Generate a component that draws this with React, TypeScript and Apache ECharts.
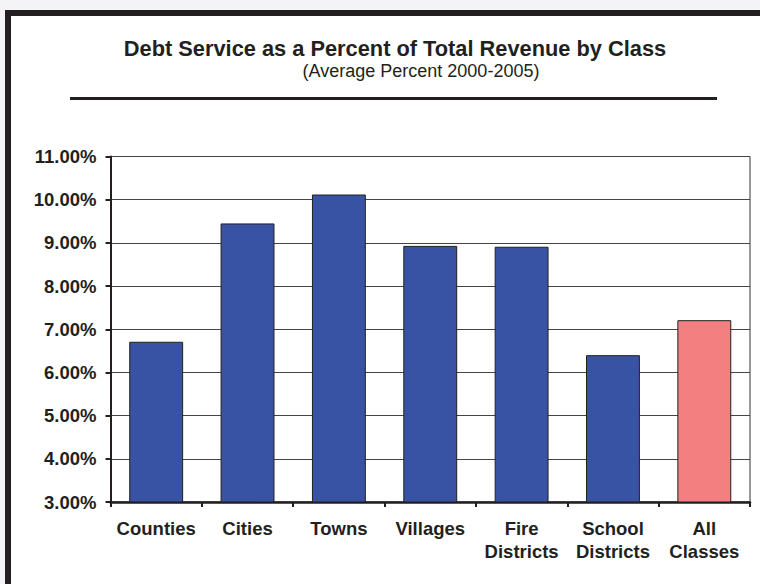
import React, { useEffect, useRef } from "react";
import * as echarts from "echarts";

const categories = ["Counties", "Cities", "Towns", "Villages", "Fire\nDistricts", "School\nDistricts", "All\nClasses"];
const values = [6.71, 9.45, 10.12, 8.93, 8.91, 6.4, 7.21];
const barColors = ["#3953a4", "#3953a4", "#3953a4", "#3953a4", "#3953a4", "#3953a4", "#f47f80"];
const titleText = "Debt Service as a Percent of Total Revenue by Class";
const subtitleText = "(Average Percent 2000-2005)";

export default function App() {
  const ref = useRef<HTMLDivElement>(null);
  useEffect(() => {
    if (!ref.current) return;
    const chart = echarts.init(ref.current, null, { renderer: "svg" });
    const font = "'Liberation Sans', Arial, sans-serif";
    chart.setOption({
      animation: false,
      backgroundColor: "#f4f4f6",
      textStyle: { fontFamily: font },
      graphic: [
        {
          type: "rect",
          z: -10,
          shape: { x: 8, y: 13, width: 800, height: 700 },
          style: { fill: "#ffffff", stroke: "#231f20", lineWidth: 6 },
        },
        {
          type: "text",
          x: 395,
          y: 48,
          style: {
            text: titleText,
            font: `bold 21.8px ${font}`,
            fill: "#231f20",
            textAlign: "center",
            textVerticalAlign: "middle",
          },
        },
        {
          type: "text",
          x: 421,
          y: 71,
          style: {
            text: subtitleText,
            font: `18px ${font}`,
            fill: "#231f20",
            textAlign: "center",
            textVerticalAlign: "middle",
          },
        },
        {
          type: "line",
          shape: { x1: 70, y1: 98.5, x2: 717, y2: 98.5 },
          style: { stroke: "#231f20", lineWidth: 3 },
        },
      ],
      grid: {
        left: 110.5,
        right: 10,
        top: 156.5,
        bottom: 82,
        show: true,
        borderColor: "#333",
        borderWidth: 1,
        backgroundColor: "transparent",
      },
      xAxis: {
        type: "category",
        data: categories,
        axisLine: { lineStyle: { color: "#231f20", width: 2.5 } },
        axisTick: { show: true, length: 5, lineStyle: { color: "#231f20", width: 2 } },
        axisLabel: {
          interval: 0,
          margin: 15,
          color: "#231f20",
          fontWeight: "bold",
          fontSize: 18.5,
          lineHeight: 23,
          fontFamily: font,
        },
      },
      yAxis: {
        type: "value",
        min: 3,
        max: 11,
        interval: 1,
        axisLine: { show: true, lineStyle: { color: "#231f20", width: 2 } },
        axisTick: { show: true, length: 5, lineStyle: { color: "#231f20", width: 2 } },
        splitLine: { show: true, lineStyle: { color: "#444", width: 1 } },
        axisLabel: {
          margin: 14,
          color: "#231f20",
          fontWeight: "bold",
          fontSize: 18.5,
          fontFamily: font,
          formatter: (v: number) => v.toFixed(2) + "%",
        },
      },
      series: [
        {
          type: "bar",
          barCategoryGap: "41%",
          data: values.map((v, i) => ({
            value: v,
            itemStyle: { color: barColors[i] },
          })),
          itemStyle: { borderColor: "#231f20", borderWidth: 1 },
        },
      ],
    });
    return () => chart.dispose();
  }, []);
  return <div ref={ref} style={{ position: "fixed", left: 0, top: 0, width: 760, height: 584 }} />;
}
